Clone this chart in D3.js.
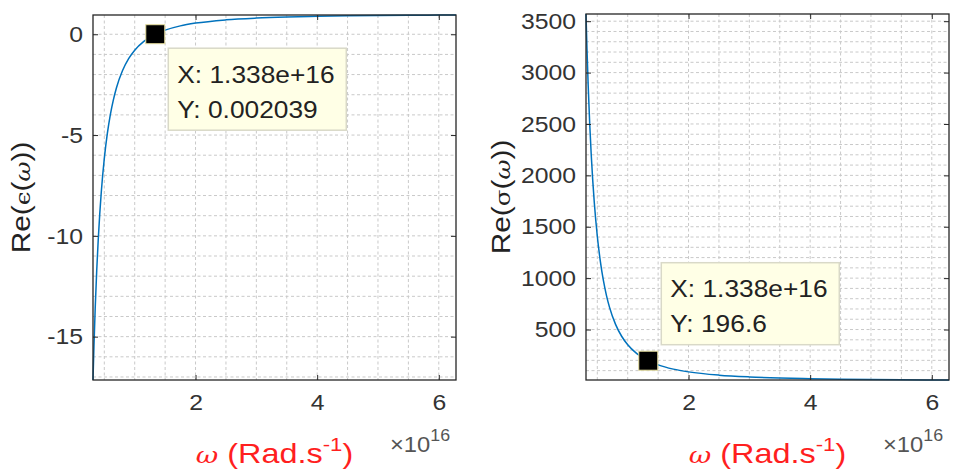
<!DOCTYPE html>
<html>
<head>
<meta charset="utf-8">
<script src="https://cdn.jsdelivr.net/npm/d3@7"></script>
<style>
  html, body { margin: 0; padding: 0; background: #fff; }
  svg { display: block; font-family: "Liberation Sans", Arial, sans-serif; }
</style>
</head>
<body>
<svg id="chart" width="953" height="470"></svg>
<script>
// ---- data (omega in units of 1e16 rad/s) ----
const omega    = [0.314, 0.33, 0.35, 0.375, 0.4, 0.425, 0.45, 0.5, 0.55, 0.6, 0.65, 0.7, 0.8, 0.9, 1.0, 1.15, 1.338, 1.5, 1.75, 2.0, 2.5, 3.0, 3.5, 4.0, 4.5, 5.0, 5.5, 6.0, 6.283];
const reEps    = [-17.15, -15.44, -13.61, -11.73, -10.19, -8.91, -7.84, -6.16, -4.92, -3.97, -3.24, -2.65, -1.80, -1.21, -0.79, -0.354, 0.002039, 0.204, 0.416, 0.553, 0.714, 0.801, 0.854, 0.888, 0.912, 0.928, 0.941, 0.950, 0.955];
const reSigma  = [3570, 3232, 2873, 2503, 2200, 1949, 1738, 1408, 1164, 978, 833, 718, 550, 434.6, 352, 266, 196.6, 156.4, 114.9, 88, 56.3, 39.1, 28.7, 22.0, 17.4, 14.1, 11.6, 9.8, 8.9];

const xTicks      = [2, 4, 6];
const xTickLabels = ["2", "4", "6"];
const epsTicks    = [-15, -10, -5, 0];
const epsTickLabels = ["-15", "-10", "-5", "0"];
const sigmaTicks  = [500, 1000, 1500, 2000, 2500, 3000, 3500];
const sigmaTickLabels = ["500", "1000", "1500", "2000", "2500", "3000", "3500"];

const xMinorStep = 0.5, epsMinorStep = 1, sigmaMinorStep = 100;

const tipX = 1.338;          // datatip location
const tipEps = 0.002039;
const tipSigma = 196.6;
const tipXText = "X: 1.338e+16";
const tipEpsText = "Y: 0.002039";
const tipSigmaText = "Y: 196.6";

const svg = d3.select("#chart");
const AX = "#262626";
const LINE = "#0072BD";
const FONT = "'Liberation Sans', Arial, sans-serif";

function placedText(parent, x, y, sx, rot) {
  const g = parent.append("g").attr("transform", `translate(${x},${y})${rot ? ` rotate(${rot})` : ""} scale(${sx},1)`);
  return g.append("text").attr("x", 0).attr("y", 0);
}

function panel(cfg) {
  const g = svg.append("g");
  const x = d3.scaleLinear().domain(d3.extent(omega)).range([cfg.x0, cfg.x1]);
  const y = d3.scaleLinear().domain(d3.extent(cfg.values)).range([cfg.y1, cfg.y0]);

  // minor + major grid (dashed)
  const xg = d3.range(Math.ceil(x.domain()[0] / xMinorStep) * xMinorStep, x.domain()[1], xMinorStep);
  const yg = d3.range(Math.ceil(y.domain()[0] / cfg.minorStep) * cfg.minorStep, y.domain()[1], cfg.minorStep);
  g.append("g").selectAll("line").data(xg).join("line")
    .attr("x1", d => x(d)).attr("x2", d => x(d))
    .attr("y1", cfg.y0).attr("y2", cfg.y1)
    .attr("stroke", "#c9c9c9").attr("stroke-width", 1).attr("stroke-dasharray", "3,2.5");
  g.append("g").selectAll("line").data(yg).join("line")
    .attr("x1", cfg.x0).attr("x2", cfg.x1)
    .attr("y1", d => y(d)).attr("y2", d => y(d))
    .attr("stroke", "#c9c9c9").attr("stroke-width", 1).attr("stroke-dasharray", "3,2.5");

  // curve
  g.append("path").datum(omega.map((o, i) => [o, cfg.values[i]]))
    .attr("fill", "none").attr("stroke", LINE).attr("stroke-width", 1.5)
    .attr("d", d3.line().x(d => x(d[0])).y(d => y(d[1])).curve(d3.curveMonotoneX));

  // axes (ticks inward, box on)
  const tl = 5;
  const bottom = d3.axisBottom(x).tickValues(xTicks).tickFormat((d, i) => xTickLabels[i]).tickSizeInner(-tl).tickSizeOuter(0).tickPadding(14);
  const top = d3.axisTop(x).tickValues(xTicks).tickFormat("").tickSizeInner(-tl).tickSizeOuter(0);
  const left = d3.axisLeft(y).tickValues(cfg.ticks).tickFormat((d, i) => cfg.tickLabels[i]).tickSizeInner(-tl).tickSizeOuter(0).tickPadding(9);
  const right = d3.axisRight(y).tickValues(cfg.ticks).tickFormat("").tickSizeInner(-tl).tickSizeOuter(0);

  const styleAxis = sel => {
    sel.select(".domain").remove();
    sel.selectAll(".tick line").attr("stroke", AX).attr("stroke-width", 1);
    sel.selectAll(".tick text").attr("fill", "#333").attr("transform", "scale(1.1,1)")
      .style("font-size", "22.5px").style("font-family", FONT);
  };
  g.append("g").attr("transform", `translate(0,${cfg.y1})`).call(bottom).call(styleAxis);
  g.append("g").attr("transform", `translate(0,${cfg.y0})`).call(top).call(styleAxis);
  g.append("g").attr("transform", `translate(${cfg.x0},0)`).call(left).call(styleAxis);
  g.append("g").attr("transform", `translate(${cfg.x1},0)`).call(right).call(styleAxis);

  g.append("rect").attr("x", cfg.x0).attr("y", cfg.y0)
    .attr("width", cfg.x1 - cfg.x0).attr("height", cfg.y1 - cfg.y0)
    .attr("fill", "none").attr("stroke", AX).attr("stroke-width", 1.3);

  // y label
  const yl = placedText(g, cfg.yLabelX, (cfg.y0 + cfg.y1) / 2, 1.17, -90)
    .attr("text-anchor", "middle").attr("fill", "#222").style("font-size", "25.5px");
  yl.append("tspan").text("Re(");
  yl.append("tspan").style("font-family", "'DejaVu Serif', serif").style("font-size", "21px").text(cfg.greek);
  yl.append("tspan").text("(");
  yl.append("tspan").style("font-family", "'DejaVu Serif', serif").style("font-style", "italic").style("font-size", "21px").text("ω");
  yl.append("tspan").text("))");

  // x label
  const xl = placedText(g, (cfg.x0 + cfg.x1) / 2, 463, 1.2, 0)
    .attr("text-anchor", "middle").attr("fill", "#ff1f1f").style("font-size", "27px");
  xl.append("tspan").style("font-family", "'DejaVu Serif', serif").style("font-style", "italic").style("font-size", "23px").text("ω");
  xl.append("tspan").text(" (Rad.s");
  xl.append("tspan").attr("dy", -12).style("font-size", "18.5px").text("-1");
  xl.append("tspan").attr("dy", 12).text(")");

  // exponent
  const ex = placedText(g, cfg.x1 - 66, 452, 1.08, 0).attr("fill", "#555").style("font-size", "22px");
  ex.append("tspan").text("×10");
  ex.append("tspan").attr("dy", -11).style("font-size", "16.5px").text("16");

  // datatip marker
  const mx = x(tipX), my = y(cfg.tipY);
  g.append("rect").attr("x", mx - 9.5).attr("y", my - 9.5).attr("width", 19).attr("height", 19)
    .attr("fill", "#000").attr("stroke", "#e8e0a0").attr("stroke-width", 1);

  // datatip box
  const bw = 178, bh = 82;
  const bx = mx + 13;
  const by = cfg.tipBelow ? my + 14 : my - 16 - bh;
  g.append("rect").attr("x", bx).attr("y", by).attr("width", bw).attr("height", bh)
    .attr("fill", "#ffffe6").attr("stroke", "#d9d9c8").attr("stroke-width", 1.5);
  placedText(g, bx + 9, by + 34.5, 1.12, 0).attr("fill", "#222").style("font-size", "23.5px").text(tipXText);
  placedText(g, bx + 9, by + 69.5, 1.12, 0).attr("fill", "#222").style("font-size", "23.5px").text(cfg.tipText);
}

panel({ x0: 93, x1: 456, y0: 15, y1: 380, values: reEps, ticks: epsTicks, tickLabels: epsTickLabels,
        minorStep: epsMinorStep, yLabelX: 30, greek: "ϵ", tipY: tipEps, tipText: tipEpsText, tipBelow: true });
panel({ x0: 586, x1: 949, y0: 14, y1: 380, values: reSigma, ticks: sigmaTicks, tickLabels: sigmaTickLabels,
        minorStep: sigmaMinorStep, yLabelX: 510, greek: "σ", tipY: tipSigma, tipText: tipSigmaText, tipBelow: false });
</script>
</body>
</html>
